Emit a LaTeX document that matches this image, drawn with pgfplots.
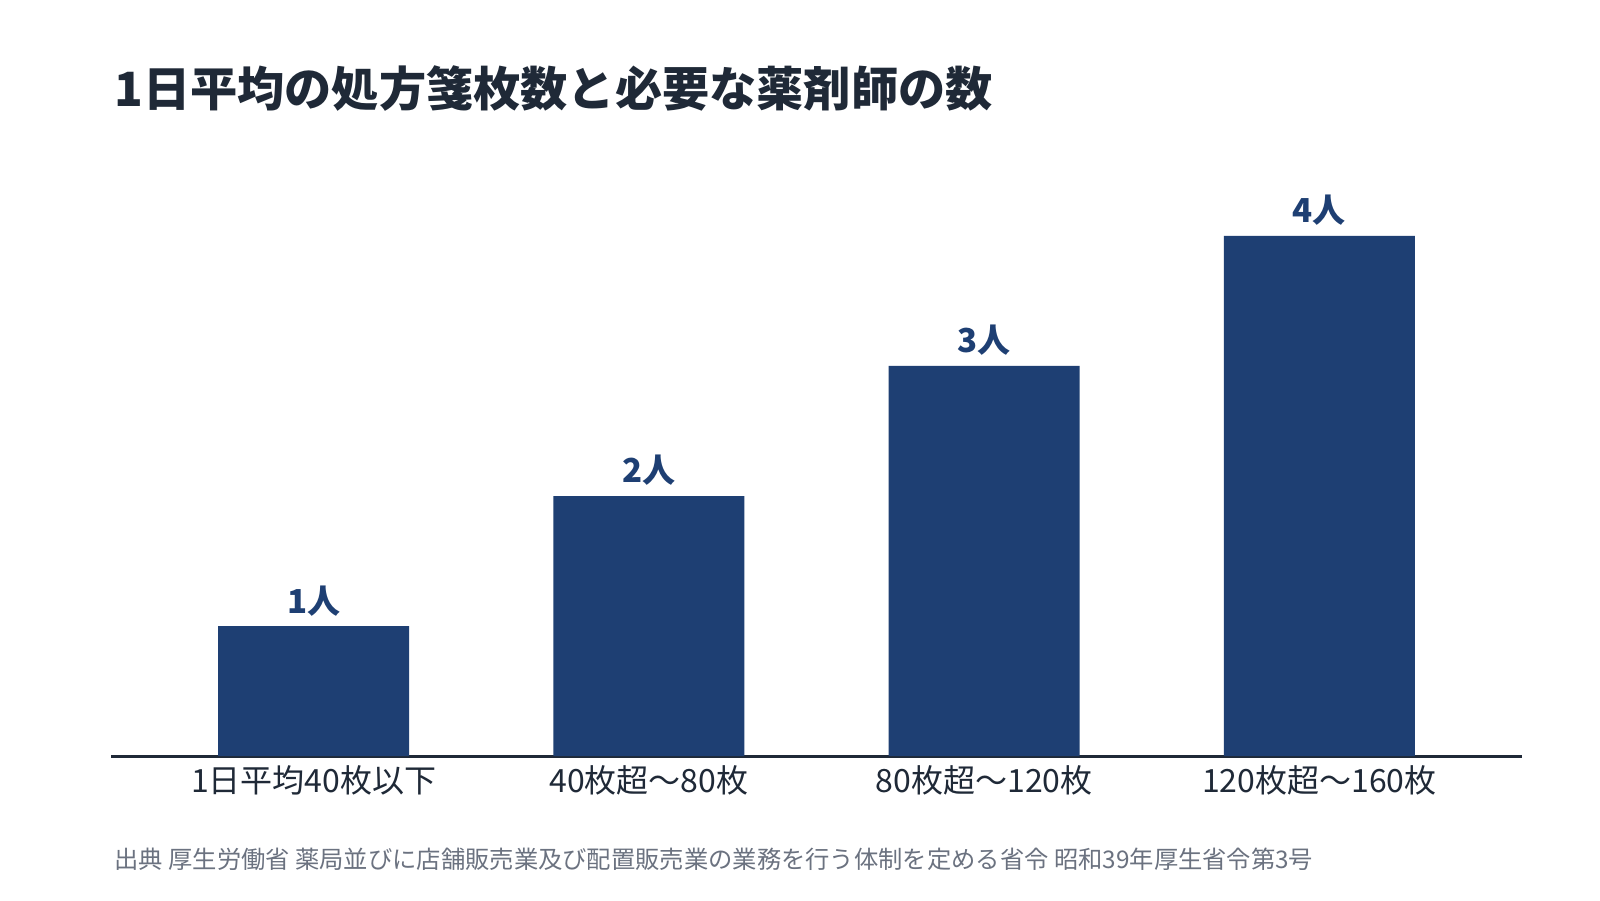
\documentclass[border=0pt]{standalone}
\usepackage{fontspec}
\setmainfont{Noto Sans CJK JP}
\usepackage{pgfplots}
\pgfplotsset{compat=1.18}
\definecolor{barblue}{HTML}{1E3F73}
\definecolor{ink}{HTML}{1F2937}
\definecolor{note}{HTML}{6B7280}
\begin{document}
\begin{tikzpicture}
\path[use as bounding box, fill=white] (0,0) rectangle (800pt,450pt);
% title
\node[anchor=base west, inner sep=0, text=ink,
  font=\fontsize{23.6}{28}\selectfont\bfseries] at (57pt,396.5pt)
  {1日平均の処方箋枚数と必要な薬剤師の数};
\begin{axis}[
    at={(55.5pt,72pt)}, anchor=south west,
    scale only axis, width=705.5pt, height=292.5pt,
    xmin=-0.6045, xmax=3.6045, ymin=0, ymax=4.5,
    axis x line=bottom, axis y line=none,
    x axis line style={-, line width=1.5pt, draw=ink},
    ybar, bar width=95.5pt,
    /pgf/number format/assume math mode=true,
    xtick=data,
    xticklabels={1日平均40枚以下, 40枚超～80枚, 80枚超～120枚, 120枚超～160枚},
    xtick style={draw=none},
    xticklabel style={anchor=base, inner sep=0, yshift=-13.8pt, text=ink,
      font=\fontsize{16}{18}\selectfont},
    nodes near coords={\pgfmathprintnumber{\pgfplotspointmeta}人},
    every node near coord/.append style={anchor=base, inner sep=0,
      yshift=6.5pt, text=barblue, font=\fontsize{16.5}{18}\selectfont\bfseries},
    clip=false,
]
\addplot[fill=barblue, draw=none] coordinates {(0,1) (1,2) (2,3) (3,4)};
\end{axis}
% source
\node[anchor=base west, inner sep=0, text=note,
  font=\fontsize{12.15}{14}\selectfont] at (57pt,16pt)
  {出典 厚生労働省 薬局並びに店舗販売業及び配置販売業の業務を行う体制を定める省令 昭和39年厚生省令第3号};
\end{tikzpicture}
\end{document}
